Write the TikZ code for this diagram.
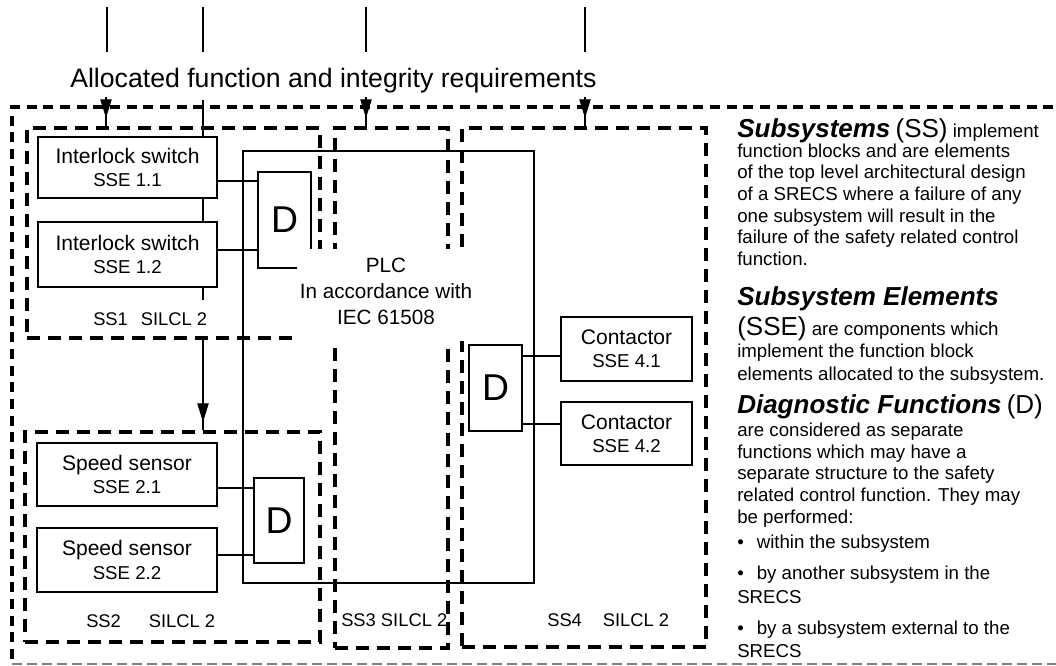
\documentclass[tikz,border=0pt]{standalone}
\usepackage{fontspec}
\setmainfont{Liberation Sans}
\usetikzlibrary{arrows.meta}
\newcommand\elemtop[1]{{\fontsize{15.8}{17.5}\selectfont #1}}
\newcommand\hdr[1]{{\fontsize{19.5}{22}\selectfont\bfseries\itshape #1}}
\newcommand\prn[1]{{\fontsize{19.5}{22}\selectfont #1}}
\begin{document}
\begin{tikzpicture}[x=0.75pt,y=-0.75pt,
  outerdash/.style={line width=2.3pt, dash pattern=on 7.5pt off 5pt},
  outerbot/.style={line width=0.9pt, gray, dash pattern=on 7.5pt off 3.75pt},
  ssbox/.style={draw, line width=3.6pt, dash pattern=on 9.75pt off 6pt, inner sep=0pt},
  elem/.style={draw, line width=1.9pt, align=center, inner sep=0pt, font=\fontsize{14}{17.5}\selectfont},
  dbox/.style={draw, line width=1.9pt, inner sep=0pt, font=\fontsize{28}{30}\selectfont},
  plcrect/.style={draw, line width=1.6pt, inner sep=0pt},
  wire/.style={line width=0.8pt},
  feedtip/.style={line width=0.8pt, -{Triangle[length=14pt,width=8.5pt]}},
  sslabel/.style={anchor=base west, inner sep=0pt, font=\fontsize{13.75}{16}\selectfont},
  rtext/.style={anchor=base west, inner sep=0pt, font=\fontsize{14}{16.5}\selectfont},
]
\useasboundingbox (0,0) rectangle (1056,666);
\clip (0,0) rectangle (1056,666);

% outer frame
\draw[outerdash] (1070,107) -- (12,107) -- (12,664);
\draw[outerbot] (12,664) -- (1070,664);

% title and feed lines at top
\node[anchor=base west, inner sep=0pt, font=\fontsize{20}{24}\selectfont] (title) at (70,88) {Allocated function and integrity requirements};
\coordinate (t1a) at (107,7);  \coordinate (t1b) at (107,52);
\coordinate (t2a) at (203,7);  \coordinate (t2b) at (203,52);
\coordinate (t3a) at (366,7);  \coordinate (t3b) at (366,52);
\coordinate (t4a) at (585,7);  \coordinate (t4b) at (585,52);
\draw[wire] (t1a) -- (t1b);
\draw[wire] (t2a) -- (t2b);
\draw[wire] (t3a) -- (t3b);
\draw[wire] (t4a) -- (t4b);

% subsystem boxes
\node[ssbox, minimum width=219.75pt, minimum height=157.5pt] (ss1) at (173.5,233) {};
\node[ssbox, minimum width=221.25pt, minimum height=157.5pt] (ss2) at (172.5,537) {};
\node[ssbox, minimum width=84.75pt, minimum height=390pt] (ss3) at (391.5,388) {};
\node[ssbox, minimum width=183pt, minimum height=389.25pt] (ss4) at (584,387.5) {};

% PLC
\node[plcrect, minimum width=218.25pt, minimum height=324pt] (plc) at (388.5,367) {};

% elements
\node[elem, minimum width=134.25pt, minimum height=45.75pt] (s11) at (127.5,167.5) {\elemtop{Interlock switch}\\SSE 1.1};
\node[elem, minimum width=134.25pt, minimum height=48.75pt] (s12) at (127.5,254.5) {\elemtop{Interlock switch}\\SSE 1.2};
\node[elem, minimum width=135pt, minimum height=47.25pt] (s21) at (127,474.5) {\elemtop{Speed sensor}\\SSE 2.1};
\node[elem, minimum width=135pt, minimum height=48pt] (s22) at (127,560) {\elemtop{Speed sensor}\\SSE 2.2};
\node[elem, minimum width=98.25pt, minimum height=48pt] (c41) at (626.5,349) {\elemtop{Contactor}\\SSE 4.1};
\node[elem, minimum width=98.25pt, minimum height=47.25pt] (c42) at (626.5,433.5) {\elemtop{Contactor}\\SSE 4.2};
\node[dbox, minimum width=39.75pt, minimum height=72pt] (d1) at (284.5,220) {D};
\node[dbox, minimum width=37.5pt, minimum height=63.75pt] (d2) at (279,520.5) {D};
\node[dbox, minimum width=39.75pt, minimum height=64.5pt] (d4) at (495.5,388) {D};

% wires to diagnostics
\coordinate (w11) at (0,181);
\coordinate (w12) at (0,250);
\coordinate (w21) at (0,488);
\coordinate (w22) at (0,555);
\coordinate (w41) at (0,356);
\coordinate (w42) at (0,424);
\draw[wire] (s11.east |- w11) -- (d1.west |- w11);
\draw[wire] (s12.east |- w12) -- (d1.west |- w12);
\draw[wire] (s21.east |- w21) -- (d2.west |- w21);
\draw[wire] (s22.east |- w22) -- (d2.west |- w22);
\draw[wire] (d4.east |- w41) -- (c41.west |- w41);
\draw[wire] (d4.east |- w42) -- (c42.west |- w42);

% series chain at x=203
\coordinate (ch0) at (203,100);
\coordinate (ch3) at (203,300);
\coordinate (ch5) at (203,422);
\draw[wire] (ch0) -- (ch0 |- s11.north);
\draw[wire] (ch0 |- s11.south) -- (ch0 |- s12.north);
\draw[wire] (ch0 |- s12.south) -- (ch3);
\draw[wire] (ch0 |- ss1.south) -- (ch0 |- ss2.north);
\draw[feedtip] (ch0 |- ss1.south) -- (ch5);

% feed arrows into subsystems
\coordinate (f1a) at (106,97);  \coordinate (f1t) at (106,118);
\coordinate (f3a) at (366,97);  \coordinate (f3t) at (366,118);
\coordinate (f4a) at (585,97);  \coordinate (f4t) at (585,118);
\draw[wire] (f1a) -- (f1a |- ss1.north);
\draw[wire] (f3a) -- (f3a |- ss3.north);
\draw[wire] (f4a) -- (f4a |- ss4.north);
\draw[feedtip] (f1a) -- (f1t);
\draw[feedtip] (f3a) -- (f3t);
\draw[feedtip] (f4a) -- (f4t);

% PLC label
\fill[white] (297,249) rectangle (470,341);
\node[align=center, inner sep=0pt, font=\fontsize{15.5}{19.5}\selectfont] (plclabel) at (386,291.75) {PLC\\In accordance with\\IEC 61508};

% subsystem labels
\node[sslabel] (l1) at (93,326) {SS1\hspace{9.75pt}SILCL 2};
\node[sslabel] (l2) at (86,627) {SS2\hspace{21pt}SILCL 2};
\node[sslabel] (l3) at (341,626) {SS3 SILCL 2};
\node[sslabel] (l4) at (547,626) {SS4\hspace{15.75pt}SILCL 2};

% right-hand explanation
\node[rtext] (r1) at (737,138) {\hdr{Subsystems} \prn{(SS)} implement};
\node[rtext] (r2) at (737,158) {function blocks and are elements};
\node[rtext] (r3) at (737,179) {of the top level architectural design};
\node[rtext] (r4) at (737,201) {of a SRECS where a failure of any};
\node[rtext] (r5) at (737,223) {one subsystem will result in the};
\node[rtext] (r6) at (737,244) {failure of the safety related control};
\node[rtext] (r7) at (737,266) {function.};
\node[rtext] (r8) at (737,306) {\hdr{Subsystem Elements}};
\node[rtext] (r9) at (737,336) {\prn{(SSE)} are components which};
\node[rtext] (r10) at (737,358) {implement the function block};
\node[rtext] (r11) at (737,381) {elements allocated to the subsystem.};
\node[rtext] (r12) at (737,413) {\hdr{Diagnostic Functions} \prn{(D)}};
\node[rtext] (r13) at (737,436) {are considered as separate};
\node[rtext] (r14) at (737,458) {functions which may have a};
\node[rtext] (r15) at (737,479) {separate structure to the safety};
\node[rtext] (r16) at (737,501) {related control function. They may};
\node[rtext] (r17) at (737,523) {be performed:};
\node[rtext] (r18) at (737,548) {•\hspace{9.75pt}within the subsystem};
\node[rtext] (r19) at (737,579) {•\hspace{9.75pt}by another subsystem in the};
\node[rtext] (r20) at (737,603) {SRECS};
\node[rtext] (r21) at (737,634) {•\hspace{9.75pt}by a subsystem external to the};
\node[rtext] (r22) at (737,657) {SRECS};
\end{tikzpicture}
\end{document}
